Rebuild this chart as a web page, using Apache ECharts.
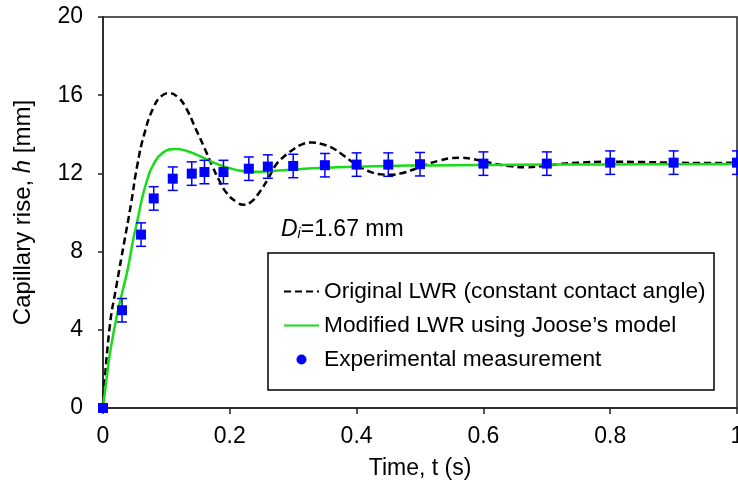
<!DOCTYPE html>
<html>
<head>
<meta charset="UTF-8">
<title>Capillary rise</title>
<script src="https://cdn.jsdelivr.net/npm/echarts@6/dist/echarts.min.js"></script>
<style>
html, body { margin: 0; padding: 0; background: #fff; }
#chart { width: 738px; height: 487px; }
</style>
</head>
<body>
<div id="chart"></div>
<script>
// Original LWR (constant contact angle)
var origTime = [0, 0.01, 0.022, 0.033, 0.044, 0.054, 0.065, 0.08, 0.092, 0.104, 0.118, 0.13, 0.146, 0.16, 0.172, 0.184, 0.195, 0.21, 0.222, 0.234, 0.246, 0.26, 0.272, 0.285, 0.299, 0.315, 0.33, 0.345, 0.362, 0.38, 0.395, 0.41, 0.425, 0.44, 0.451, 0.47, 0.49, 0.51, 0.53, 0.55, 0.565, 0.58, 0.6, 0.62, 0.645, 0.667, 0.69, 0.72, 0.75, 0.8, 0.85, 0.9, 0.95, 1.0];
var origRise = [0, 4.0, 6.4, 8.4, 10.4, 12.4, 14.0, 15.4, 15.95, 16.1, 15.9, 15.4, 14.3, 13.3, 12.4, 11.6, 11.0, 10.55, 10.4, 10.55, 11.0, 11.7, 12.4, 12.85, 13.2, 13.5, 13.58, 13.5, 13.3, 12.9, 12.55, 12.25, 12.04, 11.95, 11.93, 12.0, 12.2, 12.45, 12.65, 12.78, 12.8, 12.75, 12.62, 12.48, 12.36, 12.32, 12.36, 12.48, 12.55, 12.6, 12.58, 12.55, 12.53, 12.55];

// Modified LWR using Joose's model - solid green curve
var modTime = [0, 0.006, 0.012, 0.023, 0.031, 0.039, 0.047, 0.055, 0.0615, 0.07, 0.0786, 0.094, 0.115, 0.13, 0.15, 0.17, 0.19, 0.21, 0.23, 0.25, 0.27, 0.3, 0.33, 0.37, 0.41, 0.45, 0.51, 0.6, 0.7, 0.8, 0.9, 1.0];
var modRise = [0, 1.6, 3.0, 4.9, 6.0, 7.1, 8.5, 9.7, 10.7, 11.7, 12.4, 13.05, 13.25, 13.17, 12.92, 12.62, 12.36, 12.18, 12.1, 12.09, 12.13, 12.2, 12.26, 12.32, 12.35, 12.38, 12.41, 12.43, 12.45, 12.46, 12.47, 12.48];

// Experimental measurement with error bars
var expTime = [0, 0.03, 0.06, 0.08, 0.11, 0.14, 0.16, 0.19, 0.23, 0.26, 0.3, 0.35, 0.4, 0.45, 0.5, 0.6, 0.7, 0.8, 0.9, 1.0];
var expRise = [0, 5.0, 8.87, 10.72, 11.73, 11.99, 12.07, 12.07, 12.24, 12.35, 12.38, 12.42, 12.45, 12.45, 12.47, 12.5, 12.5, 12.55, 12.55, 12.55];
var expErr  = [0, 0.6, 0.6, 0.6, 0.6, 0.6, 0.6, 0.6, 0.6, 0.6, 0.6, 0.6, 0.6, 0.6, 0.6, 0.6, 0.6, 0.6, 0.6, 0.6];

var FONT = '"Liberation Sans", Arial, sans-serif';

function pairs(xs, ys) {
	return xs.map(function(x, i) { return [x, ys[i]]; });
}

var chart = echarts.init(document.getElementById('chart'));

var option = {
	animation: false,
	textStyle: { fontFamily: FONT, color: '#000' },
	grid: {
		left: 103, right: 1, top: 17, bottom: 79,
		outerBoundsMode: 'none',
		show: true, borderColor: '#222', borderWidth: 1.5
	},
	legend: {
		orient: 'vertical',
		left: 283, top: 280,
		padding: 0,
		itemGap: 11,
		itemWidth: 35, itemHeight: 10,
		textStyle: { fontFamily: FONT, fontSize: 22.7, color: '#000' },
		data: [
			{ name: 'Original LWR (constant contact angle)', itemStyle: { opacity: 0 } },
			{ name: 'Modified LWR using Joose\u2019s model', itemStyle: { opacity: 0 } },
			{ name: 'Experimental measurement', icon: 'circle' }
		]
	},
	graphic: [
		{
			type: 'rect',
			shape: { x: 268, y: 253, width: 446, height: 137 },
			style: { fill: 'none', stroke: '#000', lineWidth: 1.5 },
			z: 10
		},
		{
			type: 'text',
			left: 281, top: 218,
			style: {
				text: '{d|D}{s|i}{n|=1.67 mm}',
				rich: {
					d: { fontFamily: FONT, fontSize: 23, fontStyle: 'italic', fill: '#000' },
					s: { fontFamily: FONT, fontSize: 14, fontStyle: 'italic', fill: '#000', padding: [10, 0, 0, 0] },
					n: { fontFamily: FONT, fontSize: 23, fill: '#000' }
				}
			}
		}
	],
	xAxis: {
		type: 'value',
		min: 0, max: 1, interval: 0.2,
		name: 'Time, t (s)',
		nameLocation: 'middle',
		nameGap: 49,
		nameTextStyle: { fontFamily: FONT, fontSize: 23, color: '#000' },
		axisLine: { lineStyle: { color: '#222', width: 1.5 } },
		axisTick: { length: 6, lineStyle: { color: '#222', width: 1.5 } },
		axisLabel: { fontFamily: FONT, fontSize: 23, color: '#000', margin: 17, alignMaxLabel: 'center', alignMinLabel: 'center' },
		splitLine: { show: false }
	},
	yAxis: {
		type: 'value',
		min: 0, max: 20, interval: 4,
		name: '{a|Capillary rise, }{i|h}{a| [mm]}',
		nameLocation: 'middle',
		nameGap: 68,
		nameTextStyle: {
			rich: {
				a: { fontFamily: FONT, fontSize: 24, color: '#000' },
				i: { fontFamily: FONT, fontSize: 24, color: '#000', fontStyle: 'italic' }
			}
		},
		axisLine: { lineStyle: { color: '#222', width: 1.5 } },
		axisTick: { length: 5, lineStyle: { color: '#222', width: 1.5 } },
		axisLabel: { fontFamily: FONT, fontSize: 23, color: '#000', margin: 20 },
		splitLine: { show: false }
	},
	series: [
		{
			name: 'Original LWR (constant contact angle)',
			type: 'line',
			data: pairs(origTime, origRise),
			smooth: true,
			symbol: 'none',
			lineStyle: { color: '#000', width: 2.5, type: [7, 4] },
			itemStyle: { color: '#000' },
			z: 2
		},
		{
			name: 'Modified LWR using Joose\u2019s model',
			type: 'line',
			data: pairs(modTime, modRise),
			smooth: true,
			symbol: 'none',
			lineStyle: { color: '#16dd16', width: 2.5 },
			itemStyle: { color: '#16dd16' },
			z: 3
		},
		{
			name: 'error',
			type: 'custom',
			data: expTime.map(function(t, i) { return [t, expRise[i] - expErr[i], expRise[i] + expErr[i]]; }),
			renderItem: function(params, api) {
				var lo = api.coord([api.value(0), api.value(1)]);
				var hi = api.coord([api.value(0), api.value(2)]);
				if (hi[1] === lo[1]) return null;
				var w = 5;
				var st = { stroke: '#0000ff', lineWidth: 1.5 };
				return {
					type: 'group',
					children: [
						{ type: 'line', shape: { x1: lo[0], y1: lo[1], x2: hi[0], y2: hi[1] }, style: st },
						{ type: 'line', shape: { x1: lo[0] - w, y1: lo[1], x2: lo[0] + w, y2: lo[1] }, style: st },
						{ type: 'line', shape: { x1: hi[0] - w, y1: hi[1], x2: hi[0] + w, y2: hi[1] }, style: st }
					]
				};
			},
			clip: false,
			z: 4
		},
		{
			name: 'Experimental measurement',
			type: 'scatter',
			data: pairs(expTime, expRise),
			symbol: 'rect',
			symbolSize: 10,
			itemStyle: { color: '#0000ff', opacity: 1 },
			clip: false,
			z: 5
		}
	]
};

chart.setOption(option);
</script>
</body>
</html>
